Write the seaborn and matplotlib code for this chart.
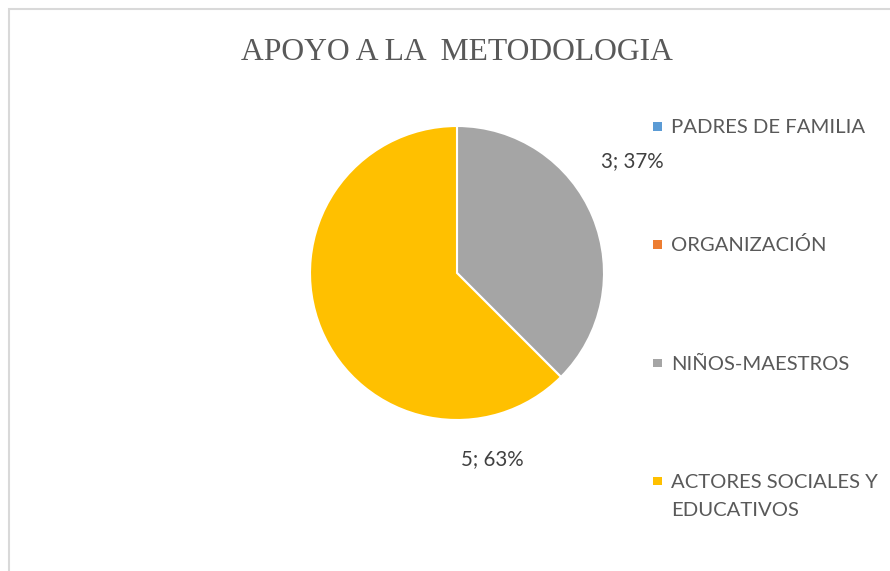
"""
Pie chart: APOYO A LA METODOLOGIA
"""

import matplotlib
matplotlib.use("Agg")
import matplotlib.pyplot as plt
from matplotlib.patches import Rectangle
import seaborn as sns

# Data
categories = ["PADRES DE FAMILIA", "ORGANIZACIÓN", "NIÑOS-MAESTROS",
              "ACTORES SOCIALES Y\nEDUCATIVOS"]
values = [0, 0, 3, 5]
pct_shown = [0, 0, 37, 63]   # percentages as printed on the chart
colors = ["#5B9BD5", "#ED7D31", "#A5A5A5", "#FFC000"]

sns.set_theme(style="white")
plt.rcParams['font.family'] = ['Lato', 'DejaVu Sans']

W, H = 890, 571
fig = plt.figure(figsize=(W / 100, H / 100), dpi=100)
fig.patch.set_facecolor("white")

# light chart-area frame (cut off at right and bottom)
fig.patches.append(Rectangle((9 / W, -0.1), 1.2, 1 - 9 / H + 0.1,
                             transform=fig.transFigure, fill=False,
                             edgecolor="#D9D9D9", linewidth=1.5))

# Title
fig.text(457 / W, 1 - 59.5 / H, "APOYO A LA  METODOLOGIA",
         family="Liberation Serif", fontsize=22.8, color="#595959",
         ha="center", va="baseline")

# Pie: center (457, 273), radius 147 px
cx, cy, r = 457, 273, 147
ax = fig.add_axes([(cx - r) / W, (H - cy - r) / H, 2 * r / W, 2 * r / H])
wedges, _ = ax.pie(values, colors=colors, startangle=90, counterclock=False,
                   radius=1, wedgeprops=dict(edgecolor="white", linewidth=1.5))
ax.set_xlim(-1, 1)
ax.set_ylim(-1, 1)
ax.set_aspect("equal")
ax.axis("off")

# Data labels (only non-zero slices), positions in pie radius units
label_pos = {2: (1.19, 0.72), 3: (0.242, -1.31)}
for i, (v, p) in enumerate(zip(values, pct_shown)):
    if v == 0:
        continue
    x, y = label_pos[i]
    ax.text(x, y, f"{v}; {p}%", fontsize=14.8, color="#404040",
            ha="center", va="baseline", clip_on=False)

# Legend drawn manually on the right
base0, step, line_h = 133, 118.3, 28
for i, (lab, col) in enumerate(zip(categories, colors)):
    base = base0 + i * step
    fig.patches.append(Rectangle((653 / W, 1 - (base - 2.5) / H), 8.5 / W, 8.5 / H,
                                 transform=fig.transFigure, facecolor=col,
                                 edgecolor="none"))
    for j, line in enumerate(lab.split("\n")):
        fig.text(671 / W, 1 - (base + j * line_h) / H, line, fontsize=14.6,
                 color="#595959", ha="left", va="baseline")

fig.savefig("out.png", dpi=100, facecolor="white")
